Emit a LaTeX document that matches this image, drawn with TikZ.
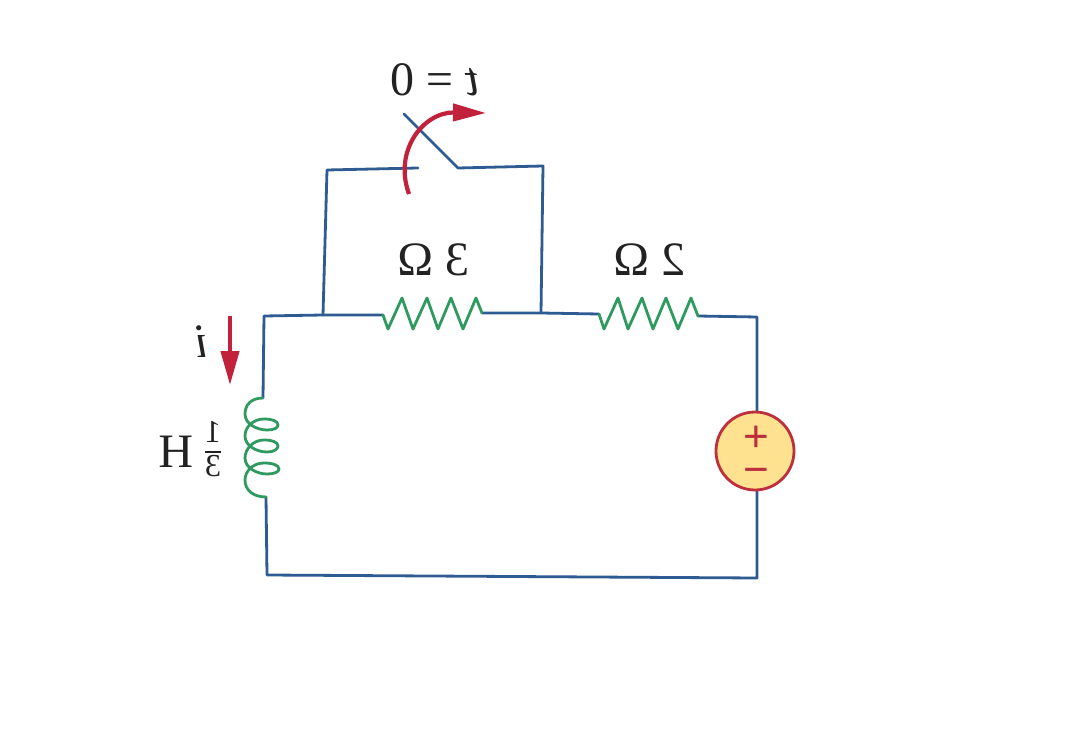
\documentclass[tikz,border=0pt]{standalone}
\usepackage{fontspec}
\setmainfont{Liberation Serif}
\newfontfamily\signfont{Liberation Sans}
\usetikzlibrary{arrows.meta}
\definecolor{wireblue}{HTML}{2F5B93}
\definecolor{partgreen}{HTML}{2F9A5F}
\definecolor{markred}{HTML}{C1213A}
\definecolor{srcfill}{HTML}{FFE28F}
\definecolor{srcline}{HTML}{BE2F3E}
\definecolor{inkblack}{HTML}{222222}
\tikzset{
  wire/.style={draw=wireblue,line width=2.8pt,line join=round,line cap=round},
  part/.style={draw=partgreen,line width=2.8pt,line join=round,line cap=round},
  motion/.style={draw=markred,line width=4.2pt,-{Triangle[length=33pt,width=17pt,fill=markred]}},
  mirrortext/.style={xscale=-1,anchor=base,inner sep=0pt,text=inkblack,font=\fontsize{48}{48}\selectfont},
  sign/.style={inner sep=0pt,text=srcline,font=\signfont\fontsize{44}{44}\selectfont},
  source/.style={circle,draw=srcline,fill=srcfill,line width=2.8pt,minimum size=78pt,inner sep=0pt}
}
\begin{document}
\begin{tikzpicture}[x=1pt,y=-1pt]
\useasboundingbox (0,0) rectangle (1087,746);
\fill[white] (0,0) rectangle (1087,746);
% junctions and corners
\coordinate (tl) at (264,316);
\coordinate (bl) at (267,575);
\coordinate (br) at (757,578);
\coordinate (tr) at (757,317);
\coordinate (ja) at (323,315);
\coordinate (jb) at (541,313);
\coordinate (pl) at (327,170);
\coordinate (pr) at (543,166);
\coordinate (swa) at (418,168);
\coordinate (swh) at (458,168);
\coordinate (swt) at (404,114);
\coordinate (la) at (263,398);
\coordinate (lb) at (266,497);
\coordinate (ra) at (383,315);
\coordinate (rb) at (482,313);
\coordinate (sa) at (599,314);
\coordinate (sb) at (698,316);
% wires
\draw[wire] (la) -- (tl) -- (ja) -- (ra);
\draw[wire] (rb) -- (jb) -- (sa);
\draw[wire] (sb) -- (tr) -- (757,420);
\draw[wire] (757,480) -- (br) -- (bl) -- (lb);
\draw[wire] (ja) -- (pl) -- (swa);
\draw[wire] (swt) -- (swh) -- (pr) -- (jb);
\node[source] (vs) at (755,451) {};
\node[sign] (plus) at (756,439) {+};
\node[sign] (minus) at (756,476) {−};
% resistors
\draw[part] (ra) -- (388,329) -- (402,298) -- (413,329) -- (427,298) -- (438,329) -- (451,298) -- (463,329) -- (476,298) -- (rb);
\draw[part] (sa) -- (604,329) -- (618,298) -- (628,329) -- (642,298) -- (653,329) -- (666,298) -- (678,329) -- (691,298) -- (sb);
% inductor
\draw[part] (la) .. controls (251,398) and (245,405) .. (245,414)
  .. controls (245,424) and (257,430) .. (267,430)
  .. controls (274,430) and (278,428) .. (278,425)
  .. controls (278,421) and (272,419) .. (264,419)
  .. controls (253,419) and (245,427) .. (245,436)
  .. controls (245,446) and (257,452) .. (267,452)
  .. controls (274,452) and (278,449) .. (278,446)
  .. controls (278,442) and (272,440) .. (264,440)
  .. controls (253,440) and (245,449) .. (245,458)
  .. controls (245,468) and (257,474) .. (267,474)
  .. controls (274,474) and (279,472) .. (279,469)
  .. controls (279,465) and (272,463) .. (264,463)
  .. controls (253,463) and (245,471) .. (245,480)
  .. controls (245,490) and (253,497) .. (lb);
% arrows
\coordinate (arca) at (409,194);
\coordinate (arcb) at (486,113);
\coordinate (ia) at (230,316);
\coordinate (ib) at (230,385);
\draw[motion] (arca) .. controls (393,150) and (424,112) .. (arcb);
\draw[motion,-{Triangle[length=34pt,width=18pt,fill=markred]}] (ia) -- (ib);
% labels
\node[mirrortext] (tlabel) at (435,96) {\textit{t} = 0};
\node[mirrortext] (rone) at (434,276) {3 Ω};
\node[mirrortext] (rtwo) at (650,276) {2 Ω};
\node[mirrortext] (ilabel) at (202,357) {\textit{i}};
\node[mirrortext] (hlabel) at (176,467) {H};
\node[xscale=-1,inner sep=0pt,text=inkblack,font=\fontsize{32}{32}\selectfont] (frac) at (213,449) {$\hbox{\raisebox{6pt}{1}}\above 2pt \hbox{\raisebox{-6pt}{3}}$};
\end{tikzpicture}
\end{document}
